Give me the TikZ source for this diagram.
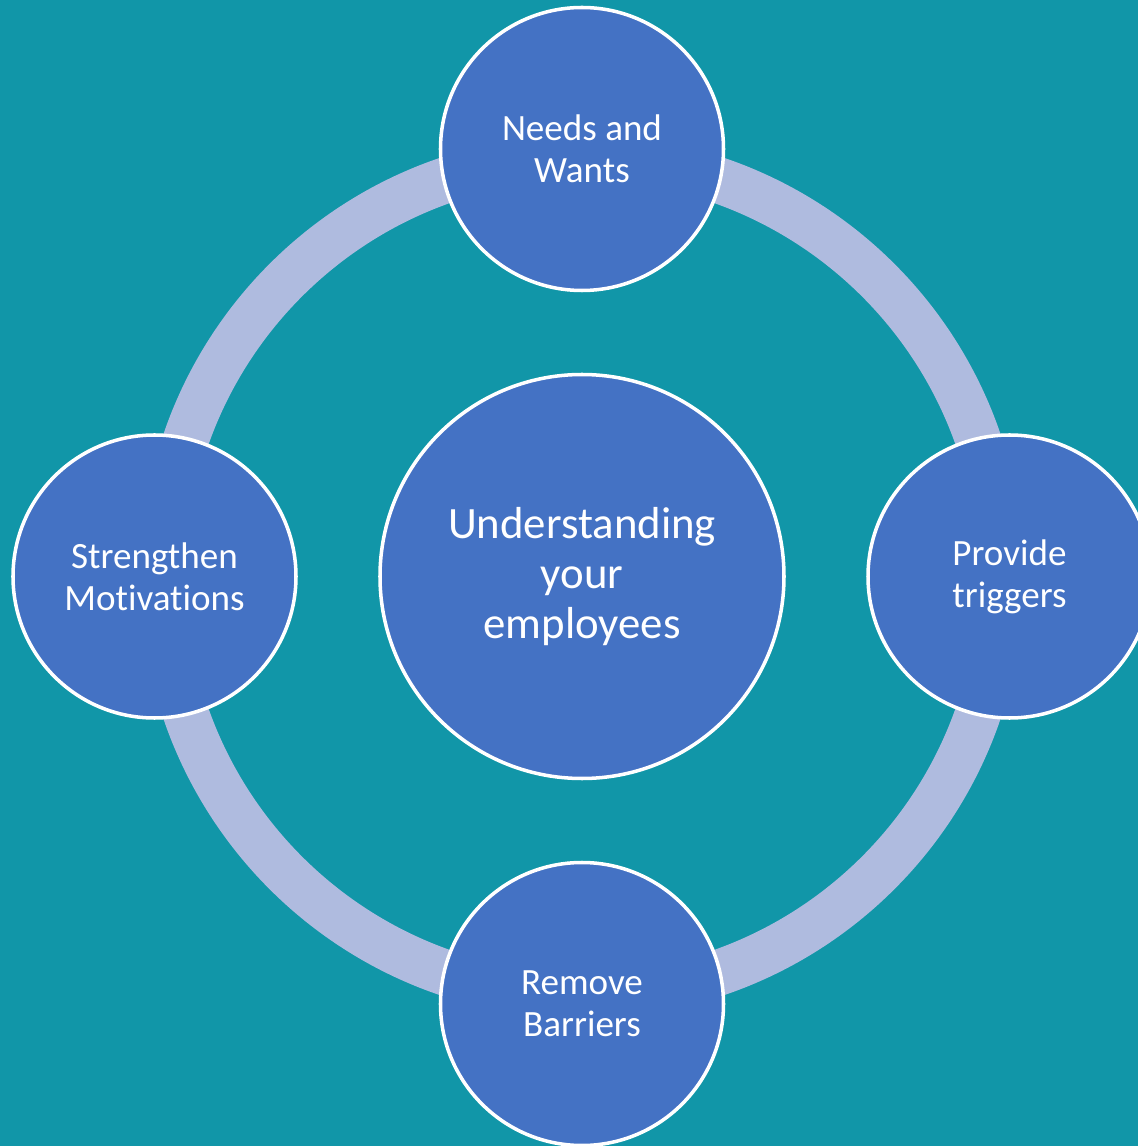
\documentclass[tikz,border=0pt]{standalone}
\usepackage{fontspec}
\setmainfont[Ligatures=NoCommon]{Carlito}
\usepackage{tikz}

\definecolor{bgteal}{RGB}{17,150,168}
\definecolor{nodeblue}{RGB}{68,114,196}
\definecolor{ringlilac}{RGB}{175,187,223}

\tikzset{
  bubble/.style={draw=white, line width=1pt, fill=nodeblue, circle, text=white,
    align=center, inner sep=0pt, minimum size=2.83cm,
    font=\fontsize{10.55}{11.85}\selectfont},
  hub/.style={bubble, minimum size=4.04cm,
    font=\fontsize{12.75}{14.2}\selectfont}
}

\begin{document}
\begin{tikzpicture}
    % Page and background
    \clip (-5.82,-5.695) rectangle (5.56,5.765);
    \fill[bgteal] (-5.82,-5.695) rectangle (5.56,5.765);
    % Ring behind the circles
    \draw[ringlilac, line width=0.46cm] (0,0) circle (4.19);
    % Centre circle
    \node[hub] (core) at (0,0) {Understanding\\your\\employees};
    % Outer circles
    \foreach \name/\ang/\txt in {needs/90/{Needs and\\Wants}, triggers/0/{Provide\\triggers},
                                 barriers/270/{Remove\\Barriers}, motiv/180/{Strengthen\\Motivations}} {
      \node[bubble] (\name) at (\ang:4.275) {\txt};
    }
\end{tikzpicture}
\end{document}
